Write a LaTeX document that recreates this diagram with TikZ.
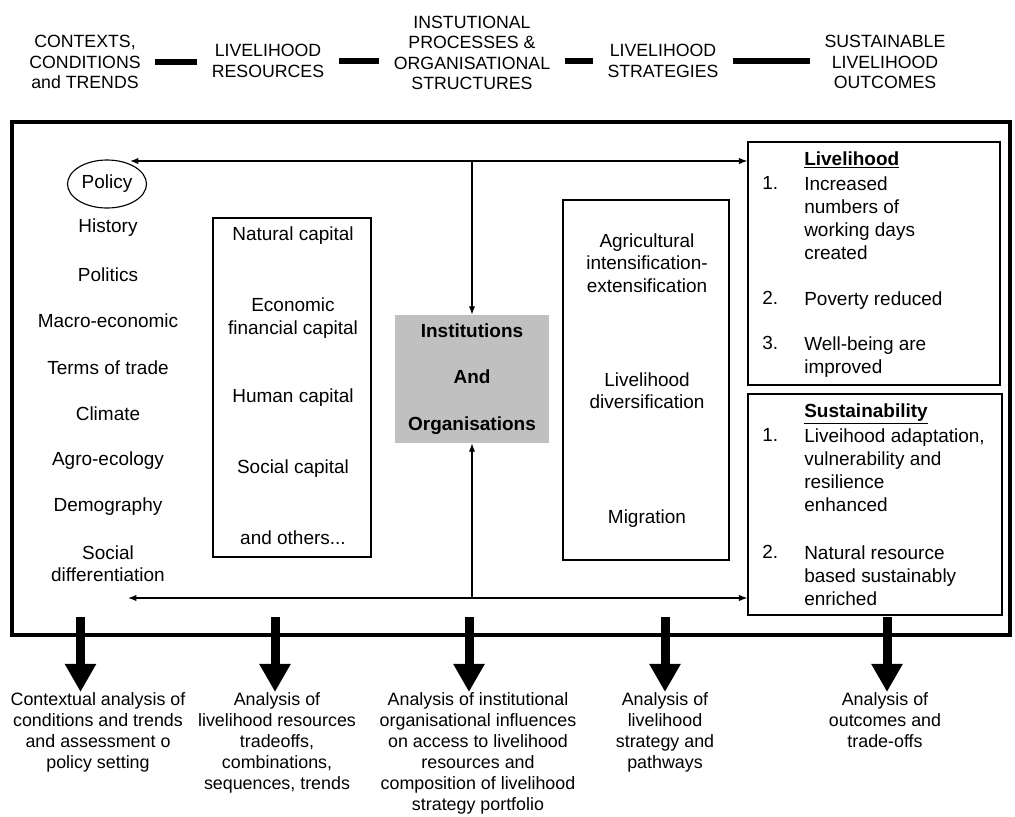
\documentclass[tikz,border=0pt]{standalone}
\usepackage{fontspec}
\setmainfont{Liberation Sans}
\usetikzlibrary{arrows.meta,positioning,shapes.geometric}
\definecolor{instgray}{RGB}{192,192,192}

\begin{document}
\begin{tikzpicture}[x=0.025cm,y=-0.025cm,>={Latex[length=6pt,width=4.5pt]},
 hd/.style={align=center,font=\fontsize{12.6}{14.6}\selectfont},
 tx/.style={align=center,font=\fontsize{13.5}{15.8}\selectfont},
 bx/.style={draw,line width=0.8pt,inner sep=0pt},
 it/.style={align=left,anchor=north west,inner sep=0pt,font=\fontsize{13.5}{16.4}\selectfont},
 ttl/.style={anchor=north west,inner sep=0pt,font=\fontsize{13.5}{16.4}\selectfont\bfseries},
 an/.style={align=center,anchor=north,inner sep=0pt,font=\fontsize{12.7}{15}\selectfont},
 bar/.style={line width=4.3pt,shorten <=7pt,shorten >=7pt},
 big/.style={line width=6.4pt,-{Triangle[width=21pt,length=20pt]}},
 ln/.style={line width=0.8pt}]
\useasboundingbox (0,0) rectangle (1015,817);
\node[hd] (h1) at (85,62) {CONTEXTS,\\CONDITIONS\\and TRENDS};
\node[hd] (h2) at (268,61) {LIVELIHOOD\\RESOURCES};
\node[hd] (h3) at (472,53) {INSTUTIONAL\\PROCESSES \&\\ORGANISATIONAL\\STRUCTURES};
\node[hd] (h4) at (663,61) {LIVELIHOOD\\STRATEGIES};
\node[hd] (h5) at (885,62) {SUSTAINABLE\\LIVELIHOOD\\OUTCOMES};
\draw[bar] (h1.east) -- (h1.east -| h2.west);
\draw[bar] (h2.east) -- (h2.east -| h3.west);
\draw[bar] (h3.east |- h2.east) -- (h2.east -| h4.west);
\draw[bar] (h4.east) -- (h4.east -| h5.west);
\draw[line width=2.2pt] (12,122) rectangle (1010,635);
\node[draw,ellipse,ln,minimum width=1.975cm,minimum height=1.2cm,inner sep=0pt,tx] (pol) at (107,184) {Policy};
\foreach \t [count=\i] in {History,Politics,Macro-economic,Terms of trade,Climate,Agro-ecology,Demography}
  \node[tx] (c\i) at (108,{228+46.5*(\i-1)}) {\t};
\node[tx] (c8) at (108,564) {Social\\differentiation};
\node[bx,minimum width=3.95cm,minimum height=8.475cm] (cap) at (292,387.5) {};
\node[tx] (k1) at (293,236) {Natural capital};
\node[tx] (k2) at (293,318) {Economic\\financial capital};
\node[tx] (k3) at (293,398) {Human capital};
\node[tx] (k4) at (293,469) {Social capital};
\node[tx] (k5) at (293,538) {and others...};
\node[fill=instgray,minimum width=3.85cm,minimum height=3.2cm,align=center,font=\fontsize{13.5}{33}\selectfont\bfseries] (inst) at (472,379) {Institutions\\And\\Organisations};
\node[bx,minimum width=4.15cm,minimum height=9cm] (str) at (646,380) {};
\node[tx] (g1) at (647,263) {Agricultural\\intensification-\\extensification};
\node[tx] (g2) at (647,391) {Livelihood\\diversification};
\node[tx] (g3) at (647,519) {Migration};
\node[bx,minimum width=6.3cm,minimum height=6.075cm] (live) at (874,263.5) {};
\node[bx,minimum width=6.35cm,minimum height=5.525cm] (sust) at (875,504.5) {};
\node[ttl] (lt) at (804,151) {\underline{Livelihood}};
\node[it] (ln1) at (762,176) {1.}; \node[it] (li1) at (804,176) {Increased\\numbers of\\working days\\created};
\node[it] (ln2) at (762,291) {2.}; \node[it] (li2) at (804,291) {Poverty reduced};
\node[it] (ln3) at (762,336) {3.}; \node[it] (li3) at (804,336) {Well-being are\\improved};
\node[ttl] (st) at (804,403) {\underline{Sustainability}};
\node[it] (sn1) at (762,428) {1.}; \node[it] (si1) at (804,428) {Liveihood adaptation,\\vulnerability and\\resilience\\enhanced};
\node[it] (sn2) at (762,545) {2.}; \node[it] (si2) at (804,545) {Natural resource\\based sustainably\\enriched};
\coordinate (tl) at (130,161); \coordinate (bl) at (128,598);
\draw[ln,<->] (tl) -- (tl -| live.west);
\draw[ln,->] (tl -| inst.north) -- (inst.north);
\draw[ln,<->] (bl) -- (bl -| sust.west);
\draw[ln,->] (bl -| inst.south) -- (inst.south);
\node[an] (b1) at (98,692) {Contextual analysis of\\conditions and trends\\and assessment o\\policy setting};
\node[an] (b2) at (277,692) {Analysis of\\livelihood resources\\tradeoffs,\\combinations,\\sequences, trends};
\node[an] (b3) at (478,692) {Analysis of institutional\\organisational influences\\on access to livelihood\\resources and\\composition of livelihood\\strategy portfolio};
\node[an] (b4) at (665,692) {Analysis of\\livelihood\\strategy and\\pathways};
\node[an] (b5) at (885,692) {Analysis of\\outcomes and\\trade-offs};
\foreach \x [count=\i] in {80.5,275,469,665,887} \coordinate (s\i) at (\x,617);
\foreach \i in {1,...,5} \draw[big] (s\i) -- (s\i |- b\i.north);
\end{tikzpicture}
\end{document}
